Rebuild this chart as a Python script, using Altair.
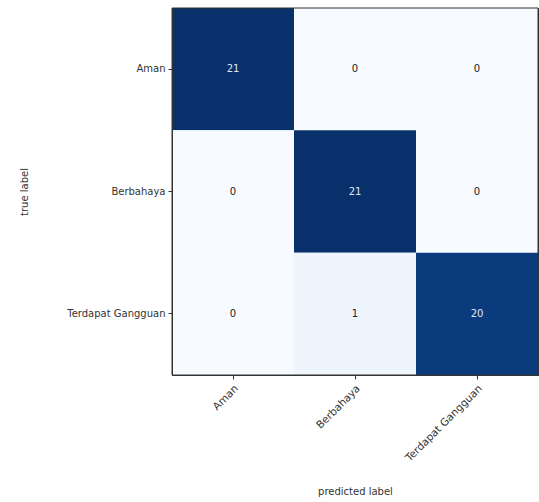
import altair as alt
import pandas as pd

labels = ["Aman", "Berbahaya", "Terdapat Gangguan"]
true_labels = ["Aman", "Aman", "Aman",
               "Berbahaya", "Berbahaya", "Berbahaya",
               "Terdapat Gangguan", "Terdapat Gangguan", "Terdapat Gangguan"]
pred_labels = ["Aman", "Berbahaya", "Terdapat Gangguan"] * 3
counts = [21, 0, 0,
          0, 21, 0,
          0, 1, 20]

df = pd.DataFrame({"true": true_labels, "pred": pred_labels, "count": counts})

blues = ["#f7fbff", "#deebf7", "#c6dbef", "#9ecae1", "#6baed6",
         "#4292c6", "#2171b5", "#08519c", "#08306b"]
vmax = 21
dom = [vmax * i / 8 for i in range(9)]

font = "DejaVu Sans"
W, H = 366, 367

base = alt.Chart(df)

rect = base.mark_rect().encode(
    x=alt.X("pred:N", sort=labels, scale=alt.Scale(paddingInner=0, paddingOuter=0),
            axis=alt.Axis(title="predicted label", labelAngle=-45, labelAlign="right",
                          labelBaseline="top", labelFontSize=10.5, labelPadding=4,
                          titleY=119, titleBaseline="alphabetic", zindex=2)),
    y=alt.Y("true:N", sort=labels, scale=alt.Scale(paddingInner=0, paddingOuter=0),
            axis=alt.Axis(title="true label", titleX=-143, zindex=2)),
    color=alt.Color("count:Q", scale=alt.Scale(domain=dom, range=blues), legend=None),
)

text = base.mark_text(font=font, fontSize=10).encode(
    x=alt.X("pred:N", sort=labels),
    y=alt.Y("true:N", sort=labels),
    text="count:Q",
    color=alt.condition(alt.datum.count > 10, alt.value("#dfe8f6"), alt.value("#222222")),
)

frame = alt.Chart(pd.DataFrame({"f": [0]})).mark_rect(
    fillOpacity=0, stroke="#333333", strokeWidth=1
).encode(
    x=alt.value(0), x2=alt.value(W), y=alt.value(0), y2=alt.value(H)
)

chart = alt.layer(rect, text, frame).properties(
    width=W, height=H,
    autosize=alt.AutoSizeParams(type="none"),
    padding={"left": 172, "top": 8, "right": 1, "bottom": 127},
).configure_view(
    stroke="#333333", strokeWidth=1
).configure_axis(
    labelFont=font, titleFont=font, labelFontSize=10, titleFontSize=10,
    titleFontWeight="normal", labelColor="#333333", titleColor="#333333",
    tickColor="#333333", domainColor="#333333", tickSize=4, labelPadding=3,
    grid=False,
)

chart.save("out.html", embed_options={"renderer": "svg", "actions": False})
